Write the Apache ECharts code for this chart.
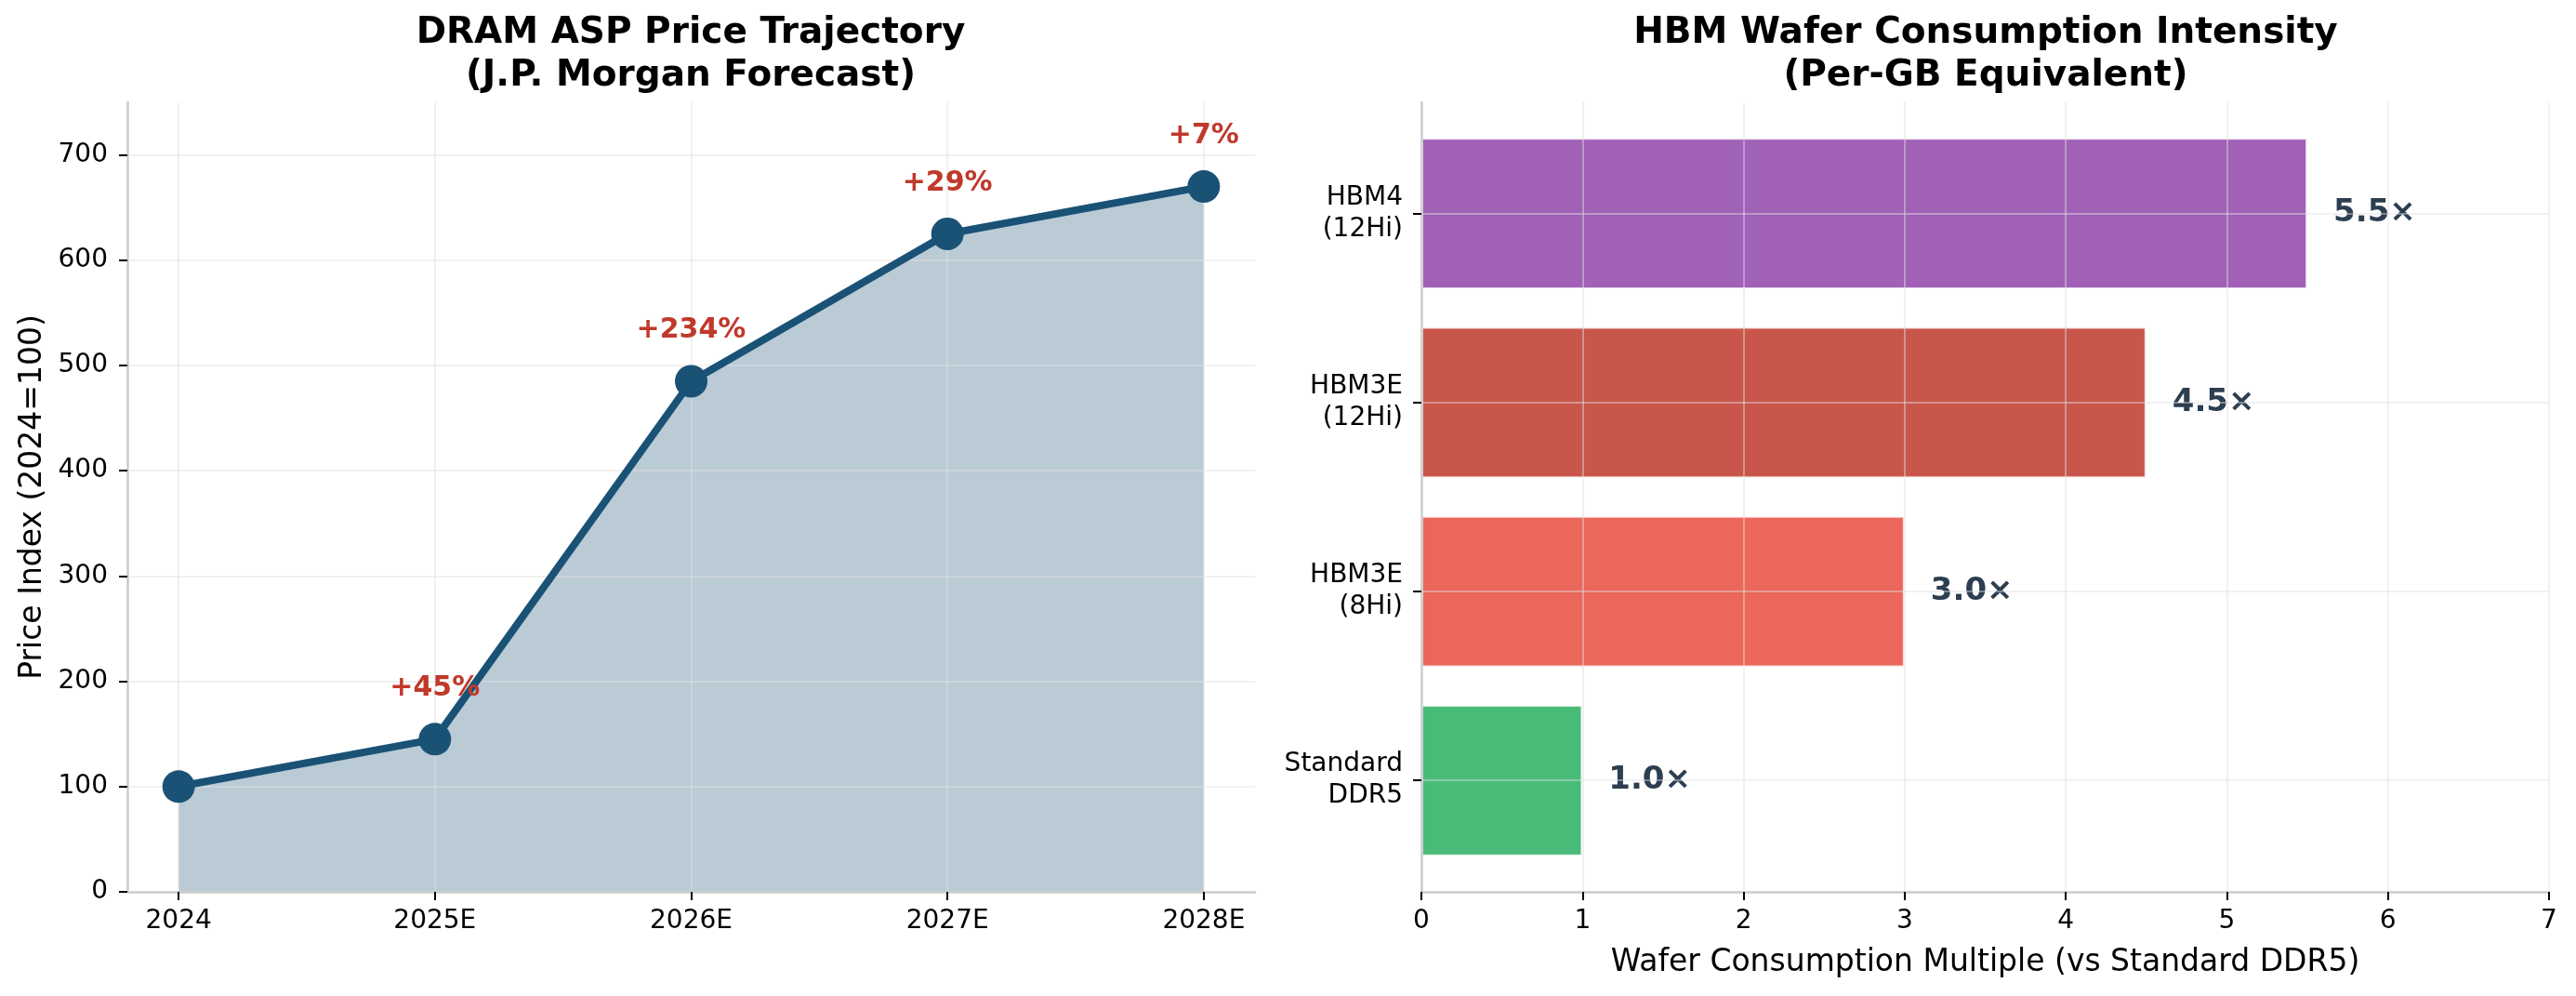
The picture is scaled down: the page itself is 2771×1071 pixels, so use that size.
<!DOCTYPE html>
<html>
<head>
<meta charset="utf-8">
<title>DRAM ASP / HBM Wafer Consumption</title>
<script src="https://cdn.jsdelivr.net/npm/echarts@6/dist/echarts.min.js"></script>
<style>
  html, body { margin: 0; padding: 0; background: #fff; }
  #chart { width: 2771px; height: 1071px; }
</style>
</head>
<body>
<div id="chart"></div>
<script>
// left panel: price index
var years = ['2024', '2025E', '2026E', '2027E', '2028E'];
var priceIndex = [100, 145, 485, 625, 670];
var growthLabels = ['', '+45%', '+234%', '+29%', '+7%'];
var priceTicks = [0, 100, 200, 300, 400, 500, 600, 700];

// right panel: wafer multiple (bottom to top)
var memTypes = ['Standard\nDDR5', 'HBM3E\n(8Hi)', 'HBM3E\n(12Hi)', 'HBM4\n(12Hi)'];
var waferMultiple = [1.0, 3.0, 4.5, 5.5];
var barColors = ['#48bb78', '#ec675b', '#c9564b', '#a061b7'];

var FONT = 'DejaVu Sans';
var grid = { color: 'rgba(225,225,225,0.45)', width: 2 };
var spine = { color: '#cccccc', width: 2.5 };
var tick = { color: '#000', width: 2 };

var yearIdx = years.map(function (y, i) { return i; });
var memIdx = memTypes.map(function (m, i) { return i; });

var chart = echarts.init(document.getElementById('chart'));

var option = {
    animation: false,
    backgroundColor: '#fff',
    textStyle: { fontFamily: FONT },
    title: [{
        text: 'DRAM ASP Price Trajectory\n(J.P. Morgan Forecast)',
        left: 743, top: 13, padding: 0, textAlign: 'center',
        textStyle: { fontFamily: FONT, fontSize: 39, fontWeight: 'bold', lineHeight: 46, color: '#000' }
    }, {
        text: 'HBM Wafer Consumption Intensity\n(Per-GB Equivalent)',
        left: 2136, top: 13, padding: 0, textAlign: 'center',
        textStyle: { fontFamily: FONT, fontSize: 39, fontWeight: 'bold', lineHeight: 46, color: '#000' }
    }],
    grid: [
        { left: 137, right: 1421, top: 110, bottom: 112 },
        { left: 1529, right: 29, top: 110, bottom: 112 },
        { left: 1529, right: 29, top: 128, bottom: 130 }
    ],
    xAxis: [{
        gridIndex: 0, type: 'value', min: -0.2, max: 4.2, z: 5,
        axisLine: { onZero: false, lineStyle: spine },
        axisTick: { customValues: yearIdx, length: 9, lineStyle: tick },
        axisLabel: {
            customValues: yearIdx, margin: 18, fontSize: 28, color: '#000', fontFamily: FONT,
            formatter: function (v) { return years[v]; }
        },
        splitLine: { show: true, lineStyle: grid }
    }, {
        gridIndex: 1, type: 'value', min: 0, max: 7, interval: 1, z: 5,
        name: 'Wafer Consumption Multiple (vs Standard DDR5)',
        nameLocation: 'middle', nameGap: 60,
        nameTextStyle: { fontSize: 33, color: '#000', fontFamily: FONT },
        axisLine: { onZero: false, lineStyle: spine },
        axisTick: { length: 9, lineStyle: tick },
        axisLabel: { margin: 18, fontSize: 28, color: '#000', fontFamily: FONT },
        splitLine: { show: true, lineStyle: grid }
    }, {
        gridIndex: 2, type: 'value', min: 0, max: 7, show: false
    }],
    yAxis: [{
        gridIndex: 0, type: 'value', min: 0, max: 750, z: 5,
        name: 'Price Index (2024=100)', nameLocation: 'middle', nameGap: 85, nameRotate: 90,
        nameTextStyle: { fontSize: 33, color: '#000', fontFamily: FONT },
        axisLine: { show: true, onZero: false, lineStyle: spine },
        axisTick: { show: true, customValues: priceTicks, length: 9, lineStyle: tick },
        axisLabel: { customValues: priceTicks, margin: 21, fontSize: 28, color: '#000', fontFamily: FONT },
        splitLine: { show: true, lineStyle: grid }
    }, {
        gridIndex: 1, type: 'value', min: -0.59, max: 3.59, z: 5,
        axisLine: { show: true, onZero: false, lineStyle: spine },
        axisTick: { show: true, customValues: memIdx, length: 9, lineStyle: tick },
        axisLabel: {
            customValues: memIdx, margin: 20, fontSize: 28, lineHeight: 34, color: '#000',
            fontFamily: FONT, align: 'right',
            formatter: function (v) { return memTypes[v]; }
        },
        splitLine: { show: true, lineStyle: grid }
    }, {
        gridIndex: 2, type: 'category', data: memTypes, show: false
    }],
    series: [{
        // fill under the curve
        type: 'line', xAxisIndex: 0, yAxisIndex: 0, z: 1,
        data: priceIndex.map(function (v, i) { return [i, v]; }),
        symbol: 'none', lineStyle: { width: 0 },
        areaStyle: { color: '#1a5276', opacity: 0.3 }
    }, {
        type: 'line', xAxisIndex: 0, yAxisIndex: 0, z: 10,
        data: priceIndex.map(function (v, i) { return [i, v]; }),
        symbol: 'circle', symbolSize: 35,
        lineStyle: { color: '#1a5276', width: 8 },
        itemStyle: { color: '#1a5276' },
        label: {
            show: true, position: 'top', distance: 22,
            fontSize: 30, fontWeight: 'bold', color: '#c0392b', fontFamily: FONT,
            formatter: function (p) { return growthLabels[p.dataIndex]; }
        }
    }, {
        type: 'bar', xAxisIndex: 2, yAxisIndex: 2, z: 2,
        barWidth: '80%',
        data: waferMultiple.map(function (v, i) {
            return { value: v, itemStyle: { color: barColors[i] } };
        }),
        itemStyle: { borderColor: 'rgba(255,255,255,0.75)', borderWidth: 2 },
        label: {
            show: true, position: 'right', distance: 28,
            fontSize: 34, fontWeight: 'bold', color: '#2c3e50', fontFamily: FONT,
            formatter: function (p) { return p.value.toFixed(1) + '×'; }
        }
    }]
};

chart.setOption(option);
</script>
</body>
</html>
